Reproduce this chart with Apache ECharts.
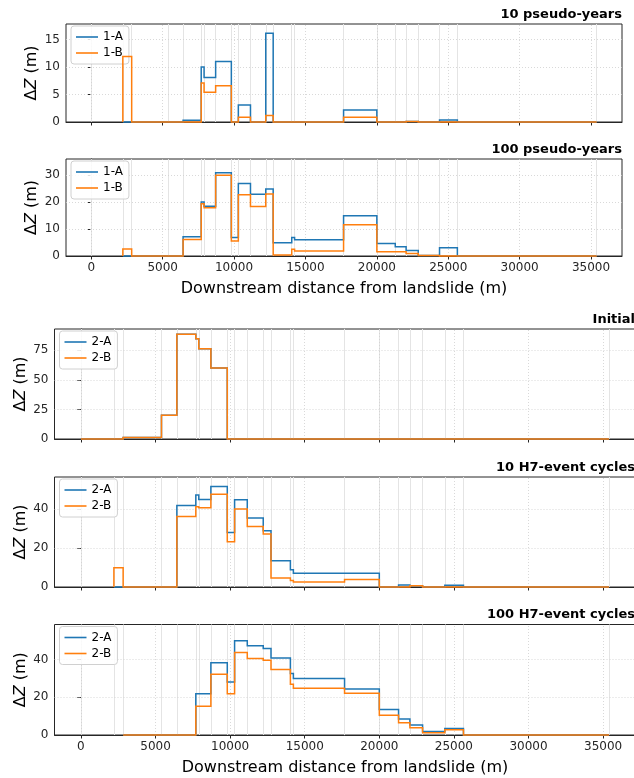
<!DOCTYPE html>
<html><head><meta charset="utf-8">
<script src="https://cdn.jsdelivr.net/npm/echarts@6/dist/echarts.min.js"></script>
<style>html,body{margin:0;padding:0;background:#fff}#c{width:634px;height:778px}</style>
</head><body><div id="c"></div>
<script>
// reach boundaries (m downstream)
const boundaries = [0, 2210, 2830, 5400, 6430, 7700, 7900, 8710, 9810, 10300, 11150, 12220, 12740, 14040, 14240, 17670, 20000, 21290, 22050, 22900, 24390, 25640, 35400];
const xTicks = [0, 5000, 10000, 15000, 20000, 25000, 30000, 35000];

const titles = ['10 pseudo-years', '100 pseudo-years', 'Initial', '10 H7-event cycles', '100 H7-event cycles'];
const names1 = ['1-A', '1-B'];
const names2 = ['2-A', '2-B'];

// per-reach ΔZ values (null = not plotted)
const pseudo10A = [null, 0, 0, 0, 0.3, 10.0, 8.1, 11.0, 0, 3.1, 0, 16.1, 0, 0, 0, 2.2, 0, 0, 0.1, 0, 0.35, 0];
const pseudo10B = [null, 11.9, 0, 0, 0, 7.1, 5.4, 6.6, 0, 0.85, 0, 1.2, 0, 0, 0, 0.85, 0, 0, 0.1, 0, 0, 0];
const pseudo100A = [null, 0, 0, 0, 7.1, 20.0, 18.5, 30.9, 6.9, 26.9, 22.9, 24.9, 4.9, 6.9, 6.0, 14.9, 4.6, 3.4, 2.0, 0.2, 3.1, 0];
const pseudo100B = [null, 2.6, 0, 0, 6.1, 19.4, 17.9, 30.0, 5.6, 22.7, 18.4, 23.0, 0.4, 2.5, 1.9, 11.6, 1.6, 1.6, 0.9, 0.2, 0, 0];
const initialA = [0, 0, 1.3, 20.0, 88.5, 84.8, 76.3, 60.0, 0, 0, 0, 0, 0, 0, 0, 0, 0, 0, 0, 0, 0, 0];
const initialB = [0, 0, 1.3, 20.0, 88.5, 84.8, 76.3, 60.0, 0, 0, 0, 0, 0, 0, 0, 0, 0, 0, 0, 0, 0, 0];
const h7c10A = [null, 0, 0, 0, 41.9, 47.2, 45.0, 51.6, 28.0, 44.8, 35.4, 28.9, 13.5, 8.9, 7.0, 7.0, 0, 1.0, 0.7, 0, 0.9, 0];
const h7c10B = [null, 9.9, 0, 0, 36.2, 41.2, 40.7, 47.7, 23.2, 40.0, 31.1, 27.2, 4.6, 3.4, 2.6, 3.9, 0, 0, 0.7, 0, 0, 0];
const h7c100A = [null, null, 0, 0, 0, 21.8, 21.8, 38.2, 28.1, 49.9, 47.3, 45.8, 40.7, 32.6, 29.9, 24.4, 13.5, 8.5, 5.3, 1.9, 3.5, 0];
const h7c100B = [null, null, 0, 0, 0, 15.2, 15.2, 32.2, 21.9, 43.7, 40.5, 39.6, 34.7, 26.9, 24.8, 22.1, 10.4, 6.5, 3.9, 1.2, 2.8, 0];

const yMax = [17.8, 36, 93, 56.5, 58.5];
const yTicks = [[0, 5, 10, 15], [0, 10, 20, 30], [0, 25, 50, 75], [0, 20, 40], [0, 20, 40]];
const xMin = -1770, xMax = 37170;

const panels = [
  [pseudo10A, pseudo10B, names1],
  [pseudo100A, pseudo100B, names1],
  [initialA, initialB, names2],
  [h7c10A, h7c10B, names2],
  [h7c100A, h7c100B, names2]
];

const grids = [
  {left: 66, top: 24, width: 556, height: 98},
  {left: 66, top: 159, width: 556, height: 97},
  {left: 54.5, top: 329, width: 581, height: 110},
  {left: 54.5, top: 477, width: 581, height: 110},
  {left: 54.5, top: 624.5, width: 581, height: 110.5}
];

const BLUE = '#1f77b4', ORANGE = '#ff7f0e';

// explicit step vertices (matplotlib drawstyle 'steps-post' look)
function stepPoints(vals) {
  const pts = [];
  let started = false;
  for (let i = 0; i < vals.length; i++) {
    if (vals[i] === null) continue;
    if (!started) { pts.push([boundaries[i], 0]); started = true; }
    else { pts.push([boundaries[i], pts[pts.length - 1][1]]); }
    pts.push([boundaries[i], vals[i]]);
  }
  pts.push([boundaries[boundaries.length - 1], vals[vals.length - 1]]);
  return pts;
}

const FONT = 'DejaVu Sans';
const DARK = '#262626';
const xLabelPanels = [1, 4];

const option = {
  animation: false,
  backgroundColor: '#fff',
  textStyle: {fontFamily: FONT},
  grid: grids.map(g => Object.assign({show: true, borderColor: DARK, borderWidth: 1, containLabel: false, outerBoundsMode: 'none'}, g)),
  title: grids.map((g, i) => ({
    text: titles[i], right: i < 2 ? 634 - (g.left + g.width) : -1, top: g.top - 16, padding: 0,
    textStyle: {fontSize: 13, fontWeight: 'bold', fontFamily: FONT, color: '#000'}
  })),
  legend: grids.map((g, i) => ({
    data: [
      {name: panels[i][2][0], icon: 'rect', itemStyle: {color: BLUE, borderWidth: 0}},
      {name: panels[i][2][1], icon: 'rect', itemStyle: {color: ORANGE, borderWidth: 0}}
    ],
    orient: 'vertical', left: g.left + 5, top: g.top + 2,
    padding: [5, 6, 5, 5], itemGap: 4, itemWidth: 22, itemHeight: 1.6,
    backgroundColor: 'rgba(255,255,255,0.85)', borderColor: '#d0d0d0', borderWidth: 1, borderRadius: 3,
    textStyle: {fontSize: 12, color: '#000', fontFamily: FONT, lineHeight: 12},
    selectedMode: false
  })),
  xAxis: grids.map((g, i) => ({
    gridIndex: i, type: 'value', min: xMin, max: xMax,
    axisLine: {show: true, lineStyle: {color: DARK, width: 1}},
    axisTick: {show: true, length: 3.5, customValues: xTicks, lineStyle: {color: DARK}},
    axisLabel: {show: xLabelPanels.includes(i), customValues: xTicks, fontSize: 12, color: DARK, margin: 5.5, fontFamily: FONT,
      formatter: v => String(v)},
    splitLine: {show: false},
    name: xLabelPanels.includes(i) ? 'Downstream distance from landslide (m)' : '',
    nameLocation: 'middle', nameGap: 25, nameMoveOverlap: false,
    nameTextStyle: {fontSize: 16, color: '#000', fontFamily: FONT}
  })),
  yAxis: grids.map((g, i) => ({
    gridIndex: i, type: 'value', min: 0, max: yMax[i],
    axisLine: {show: true, lineStyle: {color: DARK, width: 1}},
    axisTick: {show: true, length: 3.5, customValues: yTicks[i], lineStyle: {color: DARK}},
    axisLabel: {customValues: yTicks[i], fontSize: 12, color: DARK, margin: 6, fontFamily: FONT, formatter: v => String(v)},
    splitLine: {show: false},
    name: '{d|Δ}{z|Z}{d| (m)}', nameLocation: 'middle', nameGap: 26, nameMoveOverlap: false,
    nameTextStyle: {fontSize: 16, color: '#000', fontFamily: FONT,
      rich: {d: {fontSize: 16, fontFamily: FONT, color: '#000'}, z: {fontSize: 16, fontFamily: FONT, fontStyle: 'italic', color: '#000'}}}
  })),
  series: []
};

grids.forEach((g, i) => {
  // background grid lines (reach boundaries, major x ticks, major y ticks)
  const mlData = boundaries.map(b => ({xAxis: b}))
    .concat(xTicks.map(t => ({xAxis: t, lineStyle: {type: [1, 2], color: '#cfcfcf', width: 0.8}})))
    .concat(yTicks[i].filter(v => v > 0).map(v => ({yAxis: v, lineStyle: {type: [1, 2], color: '#cfcfcf', width: 0.8}})));
  option.series.push({
    type: 'line', xAxisIndex: i, yAxisIndex: i, data: [], silent: true, z: 1,
    markLine: {silent: true, symbol: 'none', z: 1, animation: false, label: {show: false},
      lineStyle: {color: '#e4e4e4', width: 1, type: 'solid'}, emphasis: {disabled: true}, data: mlData}
  });
  const [a, b, nm] = panels[i];
  [[a, nm[0], BLUE, 3], [b, nm[1], ORANGE, 4]].forEach(([vals, name, col, z]) => {
    option.series.push({
      name: name, type: 'lines', coordinateSystem: 'cartesian2d', xAxisIndex: i, yAxisIndex: i,
      polyline: true, clip: false, silent: true, z: z, color: col,
      lineStyle: {color: col, width: 1.5, opacity: 1, join: 'miter'},
      effect: {show: false},
      data: [{coords: stepPoints(vals)}]
    });
  });
});

const chart = echarts.init(document.getElementById('c'), null, {renderer: 'canvas'});
chart.setOption(option);
</script>
</body></html>
